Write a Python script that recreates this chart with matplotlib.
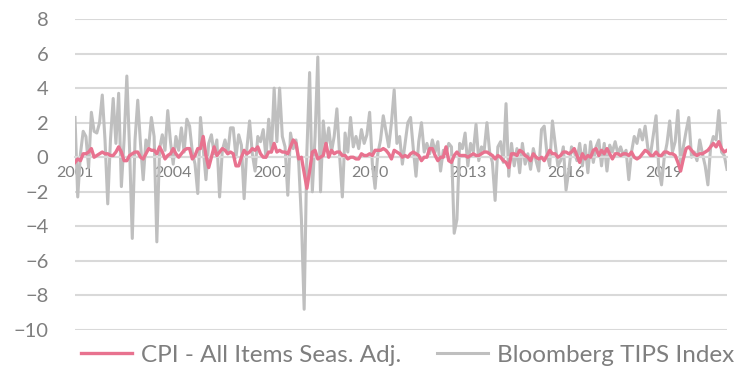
import numpy as np
import pandas as pd
import matplotlib
matplotlib.use("Agg")
import matplotlib.pyplot as plt

# monthly % changes, Oct 2001 - Sep 2021
months = pd.date_range("2001-10-01", periods=240, freq="MS")

cpi = [
    -0.3, -0.1, -0.2,
    0.2, 0.2, 0.3, 0.5, 0.0, 0.1, 0.2, 0.3, 0.2, 0.2, 0.1, 0.1,
    0.3, 0.6, 0.3, -0.2, -0.2, 0.1, 0.2, 0.3, 0.3, 0.0, -0.1, 0.2,
    0.5, 0.4, 0.4, 0.2, 0.6, 0.3, -0.1, 0.1, 0.2, 0.5, 0.2, 0.0,
    0.2, 0.4, 0.5, 0.5, -0.1, 0.1, 0.5, 0.5, 1.2, 0.1, -0.6, 0.0,
    0.6, 0.1, 0.3, 0.5, 0.4, 0.2, 0.3, 0.2, -0.5, -0.5, 0.0, 0.4,
    0.2, 0.3, 0.5, 0.4, 0.6, 0.2, 0.0, 0.0, 0.3, 0.3, 0.8, 0.3,
    0.4, 0.3, 0.3, 0.2, 0.6, 1.0, 0.8, -0.1, 0.0, -0.9, -1.8, -0.8,
    0.3, 0.4, -0.1, 0.0, 0.1, 0.8, 0.0, 0.4, 0.2, 0.3, 0.3, 0.1,
    0.1, -0.1, 0.0, 0.0, -0.1, -0.1, 0.2, 0.1, 0.1, 0.2, 0.1, 0.4,
    0.4, 0.4, 0.5, 0.4, 0.2, -0.1, 0.4, 0.3, 0.2, 0.0, 0.1, 0.0,
    0.2, 0.3, 0.2, 0.1, -0.2, 0.0, 0.0, 0.5, 0.5, 0.1, -0.2, 0.0,
    0.0, 0.6, -0.2, -0.3, 0.1, 0.3, 0.1, 0.1, 0.1, 0.0, 0.1, 0.2,
    0.1, 0.1, 0.2, 0.3, 0.3, 0.2, 0.1, -0.1, 0.1, 0.0, -0.2, -0.3,
    -0.6, 0.2, 0.2, 0.1, 0.4, 0.3, 0.1, 0.0, -0.2, 0.2, 0.0, -0.1,
    0.0, -0.2, 0.1, 0.4, 0.2, 0.2, 0.0, 0.1, 0.3, 0.3, 0.2, 0.3,
    0.5, 0.1, -0.3, 0.2, -0.1, 0.1, 0.0, 0.4, 0.5, 0.1, 0.4, 0.2,
    0.5, 0.2, -0.1, 0.2, 0.2, 0.1, 0.2, 0.2, 0.1, 0.3, 0.0, -0.1,
    0.0, 0.2, 0.4, 0.3, 0.1, 0.1, 0.3, 0.1, 0.1, 0.3, 0.3, 0.2,
    0.2, 0.1, -0.3, -0.8, -0.1, 0.5, 0.6, 0.4, 0.2, 0.1, 0.2, 0.2,
    0.3, 0.4, 0.6, 0.8, 0.6, 0.9, 0.5, 0.3, 0.4,
]

tips = [
    2.3, -2.3, 0.2, 1.5, 1.2, -0.6, 2.6, 1.5, 1.4, 2.0,
    3.6, 1.0, -2.7, 1.0, 3.4, 0.8, 3.7, -1.7, 1.0, 4.7,
    0.5, -4.7, 1.0, 3.3, 0.8, -1.3, 1.0, 0.6, 2.3, 1.2,
    -4.9, 0.5, 1.3, 0.4, 2.7, 0.9, -0.4, 1.2, 0.4, 1.7,
    0.3, 2.2, 1.8, 0.3, -0.4, -2.1, 2.3, 0.5, -1.3, 0.8,
    1.3, 0.2, 1.0, -2.3, 0.4, 1.0, 0.2, 1.7, 1.7, 0.0,
    1.3, 0.7, -2.4, 0.5, 2.1, 0.2, -0.8, 1.2, 0.9, 1.6,
    0.0, 2.2, 0.3, 4.0, 0.9, 4.0, 1.2, 0.6, -2.2, 1.4,
    0.5, 1.0, -0.3, -3.6, -8.8, 0.3, 4.9, -2.0, 1.2, 5.8,
    -2.0, 2.1, 0.5, 1.7, 0.3, 1.2, 2.8, 0.1, -2.3, 1.4,
    0.3, 2.3, 0.6, 1.2, 0.5, 1.6, 0.8, 1.3, 2.6, -0.4,
    -1.8, 0.2, 1.0, 2.4, 1.5, 0.6, 2.0, 3.9, 0.8, 1.2,
    -0.4, 0.8, 2.0, 2.3, 0.5, -1.1, 0.9, 2.0, 0.3, 0.8,
    0.2, 1.0, 0.3, 0.9, -0.8, 0.4, 0.2, 0.8, 0.6, -4.4,
    -3.6, 0.8, 0.5, 1.4, -0.5, 0.8, 0.3, 1.9, -0.2, 0.6,
    0.4, 2.0, 0.3, -0.3, -2.5, 0.6, 0.9, -0.3, 3.1, -1.1,
    0.8, -0.5, 0.5, -0.9, 0.8, -0.4, 0.2, -0.7, 0.5, -0.2,
    -0.8, 1.6, 1.8, 0.2, -0.5, 2.1, 0.8, -0.5, -0.2, 0.6,
    -1.9, -0.8, 0.6, 0.3, -0.2, 0.8, -0.5, 0.7, -0.9, 0.9,
    -0.3, 0.6, 1.0, -0.5, 0.8, -0.8, 0.7, 0.3, 0.9, 0.2,
    0.6, 0.1, 0.4, -1.3, 0.3, 1.2, 0.8, 1.6, 1.0, 1.8,
    0.5, 0.2, 1.3, 2.4, -0.7, -1.6, 0.0, 0.8, 2.1, 0.3,
    0.9, 2.7, -0.3, 0.6, 1.5, 2.3, 0.0, 0.3, -0.2, 1.0,
    0.2, -0.5, -1.6, 0.6, 1.2, 1.0, 2.7, 0.3, 0.1, -0.7,
]

plt.rcParams["font.family"] = ["Lato", "DejaVu Sans"]

fig = plt.figure(figsize=(7.37, 3.68), dpi=100)
ax = fig.add_axes([75 / 737, 38 / 368, 652 / 737, 311 / 368])

x = np.arange(len(months))
ax.plot(x, tips, color="#BFBFBF", lw=2.2, label="Bloomberg TIPS Index", zorder=2)
ax.plot(x, cpi, color="#E8728F", lw=2.4, label="CPI - All Items Seas. Adj.", zorder=3)

ax.set_xlim(0, len(months) - 1)
ax.set_ylim(-10, 8)
ax.set_yticks(np.arange(-10, 9, 2))
ax.yaxis.grid(True, color="#D9D9D9", lw=1.5)
ax.set_axisbelow(True)

# year labels every 36 months, sitting on the zero line
tick_pos = x[::36]
ax.set_xticks(tick_pos)
ax.set_xticklabels([str(months[i].year) for i in tick_pos])

for side in ["top", "right", "left"]:
    ax.spines[side].set_visible(False)
ax.spines["bottom"].set_position(("data", 0))
ax.spines["bottom"].set_color("#D9D9D9")
ax.spines["bottom"].set_linewidth(1.5)

ax.tick_params(axis="y", length=0, pad=19, labelsize=14.5, labelcolor="#7F7F7F")
ax.tick_params(axis="x", length=0, pad=6, labelsize=11.5, labelcolor="#7F7F7F")

handles, labels = ax.get_legend_handles_labels()
fig.legend(handles[::-1], labels[::-1], loc="center", ncol=2, frameon=False,
           fontsize=17.5, labelcolor="#7F7F7F", handlelength=2.1, columnspacing=1.5,
           handletextpad=0.35, bbox_to_anchor=(0.553, 0.035))

fig.savefig("out.png", dpi=100)
